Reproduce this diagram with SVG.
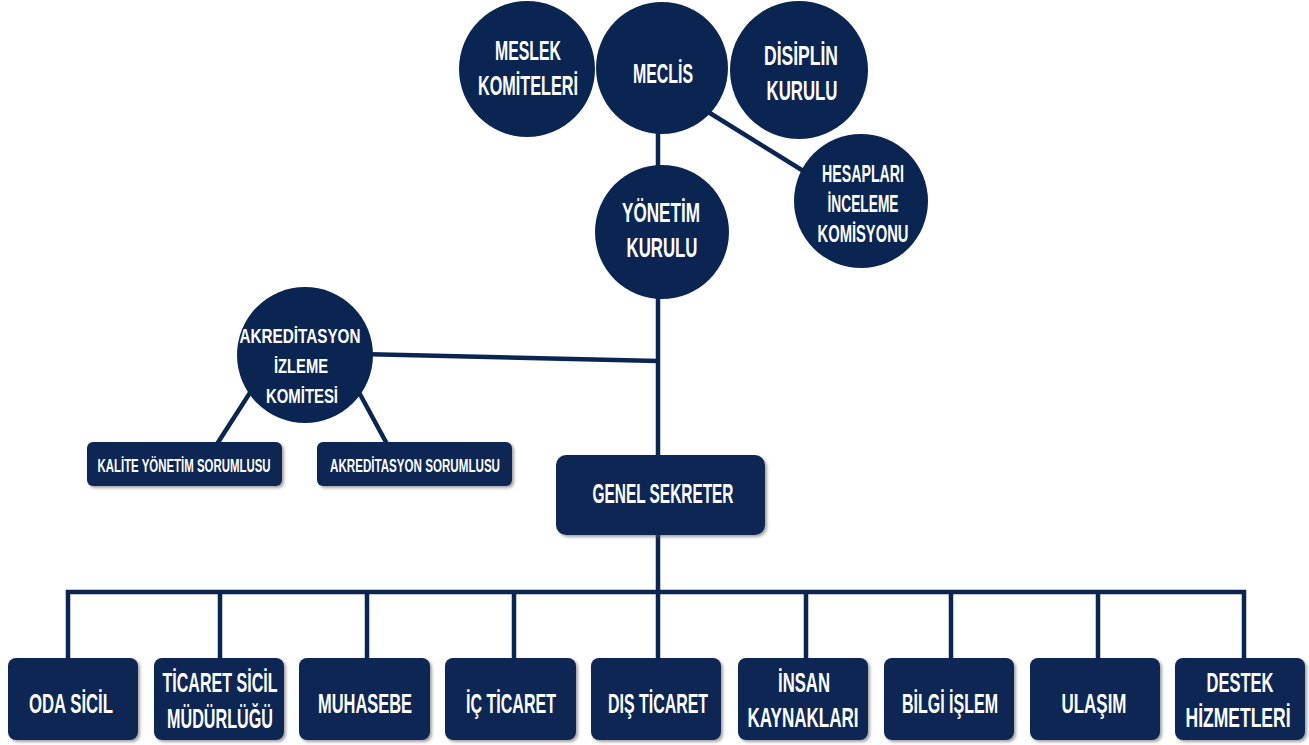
<svg xmlns="http://www.w3.org/2000/svg" width="1309" height="745" viewBox="0 0 1309 745">
<defs>
<filter id="sh" x="-10%" y="-10%" width="125%" height="130%">
<feDropShadow dx="2" dy="2" stdDeviation="1.5" flood-color="#555" flood-opacity="0.55"/>
</filter>
</defs>
<style>
.n{fill:#0b2553}
.b{fill:#0b2553;filter:url(#sh)}
.c{stroke:#0b2553;stroke-width:4.5;fill:none}
text{font-family:"Liberation Sans",Arial,sans-serif;font-weight:bold;fill:#fff;text-anchor:middle}
.t28{font-size:28px}
.t24{font-size:24px}
.t21{font-size:21px}
.t18{font-size:18px}
</style>
<rect width="1309" height="745" fill="#fff"/>
<g id="connectors">
<line class="c" x1="658" y1="120" x2="658" y2="180"/>
<line class="c" x1="705" y1="110" x2="805" y2="172"/>
<line class="c" x1="658" y1="280" x2="658" y2="460"/>
<line class="c" x1="360" y1="354" x2="658" y2="361"/>
<line class="c" x1="255" y1="385" x2="217" y2="444"/>
<line class="c" x1="355" y1="385" x2="387" y2="444"/>
<line class="c" x1="658" y1="530" x2="658" y2="592"/>
<polyline class="c" points="68,662 68,592 1244,592 1244,662"/>
<line class="c" x1="220" y1="592" x2="220" y2="662"/>
<line class="c" x1="367" y1="592" x2="367" y2="662"/>
<line class="c" x1="514" y1="592" x2="514" y2="662"/>
<line class="c" x1="658" y1="592" x2="658" y2="662"/>
<line class="c" x1="806" y1="592" x2="806" y2="662"/>
<line class="c" x1="951" y1="592" x2="951" y2="662"/>
<line class="c" x1="1098" y1="592" x2="1098" y2="662"/>
</g>
<g id="meslek"><circle class="n" cx="527" cy="69" r="68"/><text class="t28" x="528" y="60" textLength="66" lengthAdjust="spacingAndGlyphs">MESLEK</text><text class="t28" x="528" y="95" textLength="100" lengthAdjust="spacingAndGlyphs">KOMİTELERİ</text></g>
<g id="disiplin"><circle class="n" cx="799" cy="70" r="69"/><text class="t28" x="801" y="65" textLength="74" lengthAdjust="spacingAndGlyphs">DİSİPLİN</text><text class="t28" x="802" y="100" textLength="71" lengthAdjust="spacingAndGlyphs">KURULU</text></g>
<g id="meclis"><circle class="n" cx="662" cy="68" r="66"/><text class="t28" x="663" y="83" textLength="60" lengthAdjust="spacingAndGlyphs">MECLİS</text></g>
<g id="yonetim"><circle class="n" cx="662" cy="232" r="67"/><text class="t28" x="661" y="222" textLength="78" lengthAdjust="spacingAndGlyphs">YÖNETİM</text><text class="t28" x="662" y="257" textLength="71" lengthAdjust="spacingAndGlyphs">KURULU</text></g>
<g id="hesaplari"><circle class="n" cx="861" cy="201" r="67"/><text class="t24" x="863" y="182" textLength="82" lengthAdjust="spacingAndGlyphs">HESAPLARI</text><text class="t24" x="863" y="212" textLength="71" lengthAdjust="spacingAndGlyphs">İNCELEME</text><text class="t24" x="863" y="242" textLength="91" lengthAdjust="spacingAndGlyphs">KOMİSYONU</text></g>
<g id="akreditasyon-izleme"><circle class="n" cx="305" cy="355" r="68"/><text class="t21" x="300" y="343" textLength="121" lengthAdjust="spacingAndGlyphs">AKREDİTASYON</text><text class="t21" x="301" y="373" textLength="54" lengthAdjust="spacingAndGlyphs">İZLEME</text><text class="t21" x="302" y="403" textLength="72" lengthAdjust="spacingAndGlyphs">KOMİTESİ</text></g>
<g id="kalite"><rect class="b" x="87" y="442" width="195" height="44" rx="6"/><text class="t18" x="184" y="472" textLength="173" lengthAdjust="spacingAndGlyphs">KALİTE YÖNETİM SORUMLUSU</text></g>
<g id="akreditasyon-sorumlusu"><rect class="b" x="317" y="442" width="195" height="44" rx="6"/><text class="t18" x="415" y="472" textLength="170" lengthAdjust="spacingAndGlyphs">AKREDİTASYON SORUMLUSU</text></g>
<g id="genel-sekreter"><rect class="b" x="556" y="455" width="209" height="80" rx="10"/><text class="t28" x="663" y="503" textLength="141" lengthAdjust="spacingAndGlyphs">GENEL SEKRETER</text></g>
<g id="oda-sicil"><rect class="b" x="8" y="658" width="130" height="82" rx="8"/><text class="t28" x="71" y="713" textLength="84" lengthAdjust="spacingAndGlyphs">ODA SİCİL</text></g>
<g id="ticaret-sicil"><rect class="b" x="154" y="658" width="130" height="82" rx="8"/><text class="t28" x="220" y="692" textLength="115" lengthAdjust="spacingAndGlyphs">TİCARET SİCİL</text><text class="t28" x="220" y="728" textLength="106" lengthAdjust="spacingAndGlyphs">MÜDÜRLÜĞÜ</text></g>
<g id="muhasebe"><rect class="b" x="299" y="658" width="131" height="82" rx="8"/><text class="t28" x="365" y="713" textLength="94" lengthAdjust="spacingAndGlyphs">MUHASEBE</text></g>
<g id="ic-ticaret"><rect class="b" x="445" y="658" width="131" height="82" rx="8"/><text class="t28" x="511" y="713" textLength="90" lengthAdjust="spacingAndGlyphs">İÇ TİCARET</text></g>
<g id="dis-ticaret"><rect class="b" x="591" y="658" width="130" height="82" rx="8"/><text class="t28" x="658" y="713" textLength="100" lengthAdjust="spacingAndGlyphs">DIŞ TİCARET</text></g>
<g id="insan-kaynaklari"><rect class="b" x="738" y="658" width="130" height="82" rx="8"/><text class="t28" x="804" y="692" textLength="52" lengthAdjust="spacingAndGlyphs">İNSAN</text><text class="t28" x="803" y="727" textLength="111" lengthAdjust="spacingAndGlyphs">KAYNAKLARI</text></g>
<g id="bilgi-islem"><rect class="b" x="884" y="658" width="130" height="82" rx="8"/><text class="t28" x="950" y="713" textLength="96" lengthAdjust="spacingAndGlyphs">BİLGİ İŞLEM</text></g>
<g id="ulasim"><rect class="b" x="1030" y="658" width="130" height="82" rx="8"/><text class="t28" x="1094" y="713" textLength="65" lengthAdjust="spacingAndGlyphs">ULAŞIM</text></g>
<g id="destek"><rect class="b" x="1175" y="658" width="130" height="82" rx="8"/><text class="t28" x="1240" y="692" textLength="67" lengthAdjust="spacingAndGlyphs">DESTEK</text><text class="t28" x="1238" y="727" textLength="105" lengthAdjust="spacingAndGlyphs">HİZMETLERİ</text></g>
</svg>
